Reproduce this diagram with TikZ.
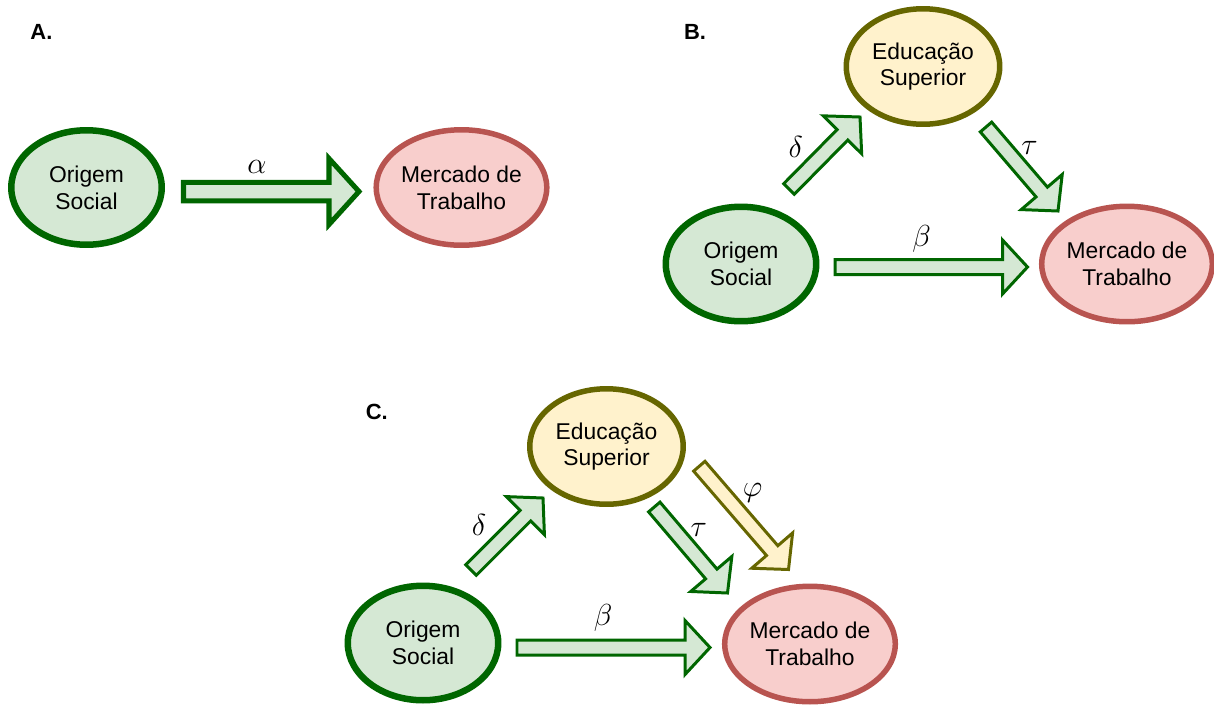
\documentclass[tikz,border=0pt]{standalone}
\usepackage{fontspec}
\setmainfont{Liberation Sans}
\usetikzlibrary{shapes.geometric,calc}
\definecolor{gstroke}{HTML}{006600}
\definecolor{gfill}{HTML}{D5E8D4}
\definecolor{rstroke}{HTML}{B85450}
\definecolor{rfill}{HTML}{F8CECC}
\definecolor{ystroke}{HTML}{666600}
\definecolor{yfill}{HTML}{FFF2CC}
\newcommand{\blockarrow}[6]{%
  \pgfmathsetlengthmacro{\bas}{#4*0.02cm}%
  \pgfmathsetlengthmacro{\bah}{#5*0.02cm}%
  \pgfmathsetlengthmacro{\bal}{#6*0.02cm}%
  \coordinate (bahead) at ($(#3)!\bal!(#2)$);
  \draw[#1] ($(#2)!\bas!90:(#3)$) -- ($(bahead)!\bas!90:(#3)$) -- ($(bahead)!\bah!90:(#3)$) -- (#3) -- ($(bahead)!\bah!-90:(#3)$) -- ($(bahead)!\bas!-90:(#3)$) -- ($(#2)!\bas!-90:(#3)$) -- cycle;
}
\tikzset{
  ellbase/.style={ellipse, inner sep=0pt, align=center, text=black,
    font=\fontsize{13}{15.2}\selectfont},
  origem/.style={ellbase, draw=gstroke, fill=gfill, line width=3.7pt,
    minimum width=3.01cm, minimum height=2.29cm},
  mercado/.style={ellbase, draw=rstroke, fill=rfill, line width=3.13pt,
    minimum width=3.29cm, minimum height=2.31cm},
  educ/.style={ellbase, draw=ystroke, fill=yfill, line width=3.13pt,
    minimum width=3.07cm, minimum height=2.31cm},
  lbl/.style={font=\bfseries\fontsize{12.5}{15}\selectfont, inner sep=0pt},
  greek/.style={font=\fontsize{19}{22}\selectfont, inner sep=0pt},
  garrowA/.style={draw=gstroke, fill=gfill, line width=2.85pt},
  garrow/.style={draw=gstroke, fill=gfill, line width=1.7pt},
  yarrow/.style={draw=ystroke, fill=yfill, line width=1.7pt}
}
\begin{document}
\begin{tikzpicture}[x=0.02cm,y=-0.02cm]
\useasboundingbox (0,0) rectangle (1214,704);
% Panel A
\node[lbl] (labA) at (41.4,32.3) {A.};
\node[origem] (osA) at (86.5,187.5) {Origem\\Social};
\node[mercado] (mtA) at (461.5,187.5) {Mercado de\\Trabalho};
\coordinate (aTail) at (183.5,191.5);
\coordinate (aTip) at (359,191.5);
\blockarrow{garrowA}{aTail}{aTip}{9.25}{33}{30}
\node[greek] (alpha) at (257,166.7) {$\alpha$};
% Panel B
\node[lbl] (labB) at (695,32.3) {B.};
\node[educ] (esB) at (923,66.5) {Educação\\Superior};
\node[origem] (osB) at (741,264) {Origem\\Social};
\node[mercado] (mtB) at (1127,264) {Mercado de\\Trabalho};
\coordinate (bbTail) at (835,267);
\coordinate (bbTip) at (1027.5,267);
\blockarrow{garrow}{bbTail}{bbTip}{7.5}{27}{25}
\coordinate (bdTail) at (789,189);
\coordinate (bdTip) at (860,117);
\blockarrow{garrow}{bdTail}{bdTip}{7.5}{27}{25}
\coordinate (btTail) at (986,127);
\coordinate (btTip) at (1058,211);
\blockarrow{garrow}{btTail}{btTip}{7.5}{27}{25}
\node[greek] (deltaB) at (795.7,146.7) {$\delta$};
\node[greek] (tauB) at (1029.5,148.3) {$\tau$};
\node[greek] (betaB) at (921.6,239.3) {$\beta$};
% Panel C
\node[lbl] (labC) at (376.8,411.7) {C.};
\node[educ] (esC) at (606.5,446.5) {Educação\\Superior};
\node[origem] (osC) at (423,643) {Origem\\Social};
\node[mercado] (mtC) at (810,644) {Mercado de\\Trabalho};
\coordinate (cdTail) at (471,570);
\coordinate (cdTip) at (543,498);
\blockarrow{garrow}{cdTail}{cdTip}{7.5}{27}{25}
\coordinate (ctTail) at (654.3,507);
\coordinate (ctTip) at (727.5,593);
\blockarrow{garrow}{ctTail}{ctTip}{7.5}{27}{25}
\coordinate (cpTail) at (699.3,466.2);
\coordinate (cpTip) at (788.5,569.5);
\blockarrow{yarrow}{cpTail}{cpTip}{7.5}{27}{25}
\coordinate (cbTail) at (517,647.5);
\coordinate (cbTip) at (710,647.5);
\blockarrow{garrow}{cbTail}{cbTip}{7.5}{27}{25}
\node[greek] (deltaC) at (479,525) {$\delta$};
\node[greek] (tauC) at (698.7,530) {$\tau$};
\node[greek] (phiC) at (752.7,493.3) {$\varphi$};
\node[greek] (betaC) at (603,618.3) {$\beta$};
\end{tikzpicture}
\end{document}
